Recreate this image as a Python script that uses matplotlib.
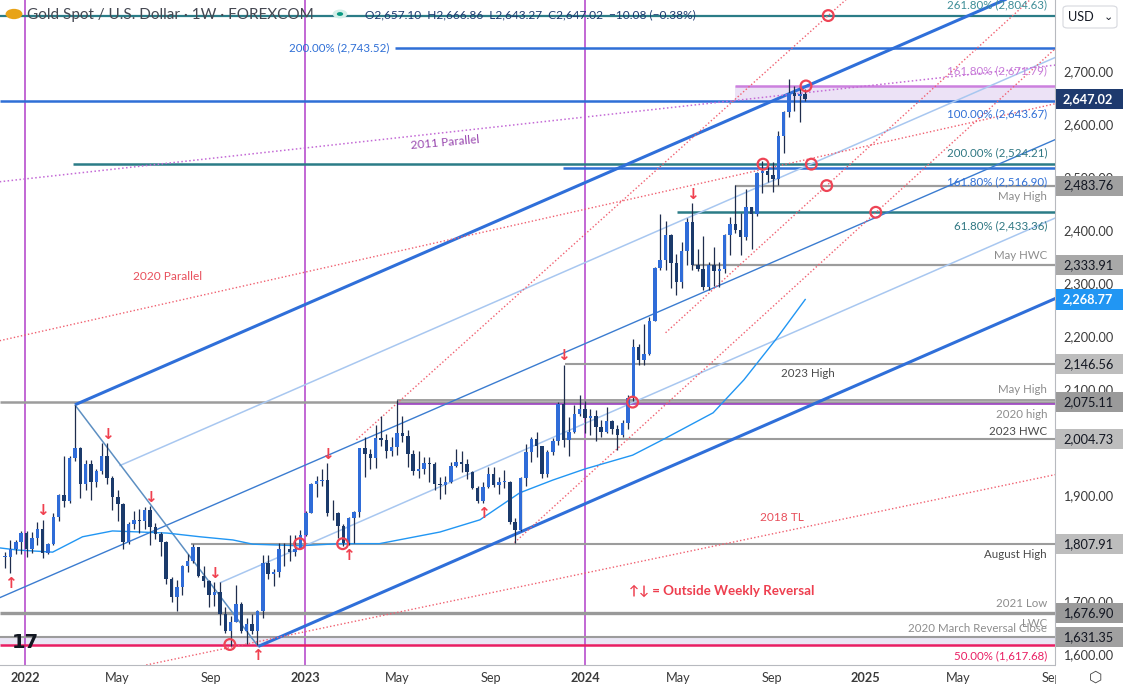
import matplotlib
matplotlib.use("Agg")
import matplotlib.pyplot as plt
import matplotlib.dates as mdates
from matplotlib.patches import Rectangle, FancyBboxPatch, Circle
from matplotlib.transforms import blended_transform_factory
import numpy as np
import pandas as pd

plt.rcParams['font.family'] = ['Lato', 'DejaVu Sans']

# ---- weekly XAU/USD candles (Dec 2021 -> Oct 2024) ----
week_start = pd.date_range('2021-12-06', periods=150, freq='7D')
opens = [1783, 1783, 1798, 1811,
         1829, 1797, 1818, 1835, 1791, 1807, 1859, 1899, 1889, 1970, 1988, 1921, 1958,
         1925, 1945, 1974, 1931, 1896, 1883, 1811, 1846, 1853, 1850, 1871, 1840, 1827,
         1811, 1742, 1708, 1727, 1766, 1775, 1802, 1747, 1737, 1712, 1716, 1675, 1644,
         1661, 1695, 1644, 1657, 1644, 1681, 1771, 1751, 1754, 1797, 1797, 1793, 1798,
         1824, 1866, 1920, 1927, 1928, 1865, 1866, 1842, 1810, 1856, 1868, 1988, 1978,
         1969, 2007, 2004, 1983, 1990, 2017, 2011, 1977, 1946, 1948, 1961, 1958, 1921,
         1919, 1925, 1955, 1962, 1959, 1943, 1913, 1889, 1914, 1940, 1919, 1924, 1925,
         1848, 1833, 1932, 1981, 2006, 1993, 1940, 1981, 2002, 2072, 2004, 2019, 2053,
         2062, 2045, 2049, 2029, 2018, 2039, 2024, 2013, 2035, 2083, 2179, 2155, 2165,
         2229, 2329, 2344, 2391, 2337, 2301, 2360, 2415, 2334, 2327, 2293, 2333, 2322,
         2326, 2391, 2411, 2400, 2387, 2443, 2431, 2508, 2512, 2503, 2497, 2578, 2622, 2658,
         2653, 2657.10]
highs = [1793, 1815, 1815, 1831,
         1831, 1830, 1848, 1853, 1810, 1865, 1902, 1974, 1974, 2070, 1990, 1966, 1966,
         1949, 1998, 1998, 1936, 1909, 1884, 1849, 1870, 1874, 1877, 1879, 1847, 1830,
         1813, 1745, 1739, 1767, 1788, 1808, 1802, 1765, 1740, 1735, 1735, 1688, 1672,
         1730, 1697, 1668, 1675, 1682, 1786, 1787, 1761, 1810, 1810, 1825, 1824, 1833,
         1870, 1922, 1935, 1949, 1960, 1890, 1868, 1845, 1858, 1870, 1989, 2009, 1987,
         2032, 2048, 2015, 2009, 2079, 2048, 2022, 1985, 1983, 1971, 1971, 1962, 1933,
         1935, 1963, 1987, 1982, 1968, 1945, 1917, 1924, 1953, 1953, 1933, 1947, 1926,
         1857, 1933, 1997, 2009, 2019, 1993, 1985, 2008, 2075, 2146, 2047, 2070, 2088,
         2078, 2062, 2060, 2041, 2065, 2041, 2032, 2041, 2088, 2195, 2185, 2222, 2236,
         2331, 2431, 2417, 2393, 2354, 2378, 2422, 2450, 2364, 2388, 2339, 2368, 2339,
         2393, 2424, 2484, 2432, 2477, 2444, 2509, 2531, 2525, 2529, 2586, 2625, 2685, 2672,
         2671, 2666.86]
lows = [1762, 1753, 1789, 1789,
        1782, 1791, 1805, 1780, 1788, 1806, 1850, 1878, 1885, 1964, 1895, 1910, 1890,
        1915, 1940, 1920, 1872, 1850, 1798, 1807, 1836, 1828, 1836, 1805, 1816, 1785,
        1732, 1697, 1680, 1711, 1754, 1772, 1745, 1727, 1688, 1691, 1654, 1639, 1615,
        1660, 1640, 1618, 1638, 1616, 1668, 1741, 1728, 1745, 1765, 1775, 1784, 1797,
        1822, 1865, 1896, 1916, 1861, 1853, 1818, 1804, 1805, 1809, 1858, 1934, 1949,
        1950, 1993, 1969, 1974, 1975, 2000, 1952, 1937, 1932, 1940, 1925, 1910, 1893,
        1902, 1922, 1952, 1943, 1930, 1911, 1885, 1884, 1913, 1915, 1901, 1913, 1846,
        1810, 1832, 1916, 1962, 1972, 1932, 1933, 1975, 1994, 1990, 1973, 2016, 2048,
        2017, 2013, 2001, 2009, 2016, 2015, 1984, 2010, 2024, 2078, 2146, 2146, 2164,
        2228, 2325, 2324, 2291, 2277, 2291, 2333, 2325, 2323, 2286, 2287, 2295, 2293,
        2319, 2352, 2394, 2353, 2382, 2364, 2426, 2470, 2491, 2472, 2485, 2546, 2614, 2624,
        2604, 2643.27]
closes = [1783, 1798, 1811, 1829,
          1797, 1818, 1835, 1791, 1807, 1859, 1899, 1889, 1970, 1988, 1921, 1958, 1925,
          1945, 1974, 1931, 1896, 1883, 1811, 1846, 1853, 1850, 1871, 1840, 1827, 1811,
          1742, 1708, 1727, 1766, 1775, 1802, 1747, 1737, 1712, 1716, 1675, 1644, 1661,
          1695, 1644, 1657, 1644, 1681, 1771, 1751, 1754, 1797, 1798, 1793, 1798, 1824,
          1866, 1920, 1927, 1928, 1865, 1866, 1842, 1810, 1856, 1868, 1988, 1978, 1969,
          2007, 2004, 1983, 1990, 2017, 2011, 1977, 1946, 1948, 1961, 1958, 1921, 1919,
          1925, 1955, 1962, 1959, 1943, 1913, 1889, 1914, 1940, 1919, 1924, 1925, 1848,
          1833, 1932, 1981, 2006, 1993, 1940, 1981, 2002, 2072, 2004, 2019, 2053, 2062,
          2045, 2049, 2029, 2018, 2039, 2024, 2013, 2035, 2083, 2179, 2155, 2165, 2229,
          2329, 2344, 2391, 2337, 2301, 2360, 2415, 2334, 2327, 2293, 2333, 2322, 2326,
          2391, 2411, 2400, 2387, 2443, 2431, 2508, 2512, 2503, 2497, 2578, 2622, 2658, 2653,
          2657, 2647.02]

# 52-week moving average
ma_dates = ['2021-11-29', '2021-12-22', '2022-02-06', '2022-03-17', '2022-04-25', '2022-05-31',
            '2022-07-05', '2022-08-17', '2022-09-29', '2022-10-25', '2022-12-25', '2023-02-15',
            '2023-04-08', '2023-06-26', '2023-08-17', '2023-10-08', '2023-11-20', '2024-01-01',
            '2024-03-03', '2024-04-11', '2024-06-16', '2024-07-26', '2024-09-05', '2024-10-14']
ma_values = [1800, 1796, 1792, 1821, 1832, 1830, 1828, 1821, 1815, 1807, 1804, 1808,
             1808, 1830, 1853, 1904, 1928, 1949, 1975, 2004, 2055, 2117, 2192, 2268.77]

# outside weekly reversals
rev_up_dates = ['2021-12-13', '2022-10-31', '2023-02-27', '2023-08-21']
rev_down_dates = ['2022-01-24', '2022-04-18', '2022-06-13', '2022-09-05', '2023-01-30',
                  '2023-12-04', '2024-05-20']

# trendline anchors (date, price) -> ray to the right
trend_names = ['upper', 'lower', 'mid', 'light1', 'light2', 'handle',
               'par2020', 'par2011', 'tl2018', 'fan1', 'fan2', 'fan3']
trend_d0 = ['2022-03-07', '2022-11-01', '2021-11-29', '2022-05-04', '2022-09-12', '2022-03-07',
            '2021-11-29', '2021-11-29', '2022-06-08', '2023-03-09', '2023-10-01', '2024-04-15']
trend_p0 = [2070, 1614, 1706, 1955, 1734, 2070, 2191, 2491, 1579, 2004, 1810, 2206]
trend_d1 = ['2024-10-15', '2025-09-04', '2025-09-04', '2025-09-04', '2025-09-04', '2022-11-01',
            '2025-09-04', '2025-09-04', '2025-09-04', '2024-11-13', '2024-03-01', '2024-11-11']
trend_p1 = [2671, 2270, 2570, 2725, 2422, 1614, 2638, 2711, 1938, 2804.63, 2011, 2483.76]
trend_ray = [True, True, True, True, True, False, True, True, True, True, True, True]

# horizontal levels
level_prices = [2804.63, 2743.52, 2671.79, 2643.67, 2524.21, 2516.90, 2483.76, 2433.36,
                2333.91, 2146.56, 2078.50, 2075.11, 2072.00, 2004.73, 1807.91, 1676.90,
                1631.35, 1617.68]
level_start = [None, '2023-04-28', '2024-07-14', None, '2022-03-04', '2023-12-03', '2024-07-14',
               '2024-04-30', '2024-05-20', '2023-12-06', '2023-05-01', None, '2023-05-01',
               '2023-12-06', '2022-08-06', None, None, None]
level_labels = ['261.80% (2,804.63)', '200.00% (2,743.52)', '161.80% (2,671.79)',
                '100.00% (2,643.67)', '200.00% (2,524.21)', '161.80% (2,516.90)', 'May High',
                '61.80% (2,433.36)', 'May HWC', '2023 High', 'May High', '', '2020 high',
                '2023 HWC', 'August High', '2021 Low', 'LWC', '50.00% (1,617.68)']

# right-axis price tags
tag_prices = [2647.02, 2483.76, 2333.91, 2268.77, 2146.56, 2075.11, 2004.73, 1807.91,
              1676.90, 1631.35]

# circled intersections
circle_dates = ['2022-09-25', '2022-12-25', '2023-02-19', '2024-03-03', '2024-08-20',
                '2024-10-22', '2024-11-11', '2025-01-14', '2024-10-15', '2024-11-13']
circle_prices = [1617.68, 1807.91, 1807.91, 2075.11, 2524.21, 2524.21, 2483.76, 2433.36,
                 2671.79, 2804.63]

year_ticks = ['2022-01-01', '2023-01-01', '2024-01-01']
axis_prices = [1600, 1700, 1900, 2100, 2200, 2300, 2400, 2500, 2600, 2700]

# ---- colours ----
BULL = '#2f6cd8'
BEAR = '#1b3a6b'
WICK = '#1f2d4d'
RED = '#f0404f'
TEAL = '#2b7c87'
BLUE = '#2f6fd6'
VIOLET = '#cc80de'
GREY = '#9c9c9c'
CRIMSON = '#e91e63'

fig = plt.figure(figsize=(11.23, 6.89), dpi=100)
ax = fig.add_axes([0, 24 / 689, 1055 / 1123, 665 / 689])
ax.set_facecolor('white')

d2n = lambda s: mdates.date2num(pd.Timestamp(s))
base = d2n('2022-01-01')
xmin, xmax = base - 32.6, base + 1342.6
ax.set_xlim(xmin, xmax)
ax.set_ylim(1579, 2834)

# bands
ax.add_patch(Rectangle((d2n('2024-07-14'), 2643.67), xmax - d2n('2024-07-14'), 2671.79 - 2643.67,
                       facecolor='#ece2f6', edgecolor='none', zorder=1))
ax.axhspan(1617.68, 1631.35, color='#eae7f5', zorder=1, lw=0)

# vertical year lines
for d in year_ticks:
    ax.axvline(d2n(d), color='#b23ec9', lw=1.1, zorder=2)

# horizontal levels
lvl_color = [TEAL, BLUE, VIOLET, BLUE, TEAL, BLUE, GREY, TEAL, GREY, GREY, '#8f8f8f', GREY,
             '#9b3fc0', GREY, GREY, '#999999', GREY, CRIMSON]
lvl_width = [1.6, 1.8, 1.8, 1.8, 1.8, 1.8, 1.6, 1.8, 1.6, 1.5, 1.2, 1.8, 1.2, 1.5, 1.5, 2.4, 1.5, 1.8]
for p, s, c, w in zip(level_prices, level_start, lvl_color, lvl_width):
    x0 = xmin if s is None else d2n(s)
    ax.plot([x0, xmax], [p, p], color=c, lw=w, zorder=3, solid_capstyle='butt')

# trendlines
dotted = (0, (1, 1.6))
styles = {
    'upper': dict(color='#2f6fd9', lw=2.2), 'lower': dict(color='#2f6fd9', lw=2.2),
    'mid': dict(color='#3b7cd0', lw=1.0), 'light1': dict(color='#a8c7f0', lw=1.1),
    'light2': dict(color='#a8c7f0', lw=1.1), 'handle': dict(color='#5d8fc2', lw=1.1),
    'par2020': dict(color='#f06070', lw=1.0, ls=dotted),
    'par2011': dict(color='#c46ad6', lw=1.1, ls=dotted),
    'tl2018': dict(color='#f06070', lw=1.0, ls=dotted),
    'fan1': dict(color='#f06070', lw=1.0, ls=dotted),
    'fan2': dict(color='#f06070', lw=1.0, ls=dotted),
    'fan3': dict(color='#f06070', lw=1.0, ls=dotted),
}
for n, a, pa, b, pb, r in zip(trend_names, trend_d0, trend_p0, trend_d1, trend_p1, trend_ray):
    xa, xb = d2n(a), d2n(b)
    if r:
        slope = (pb - pa) / (xb - xa)
        xb, pb = xmax + 60, pa + slope * (xmax + 60 - xa)
    ax.plot([xa, xb], [pa, pb], zorder=4, solid_capstyle='butt', **styles[n])

# moving average
ax.plot([d2n(d) for d in ma_dates], ma_values, color='#2196f3', lw=1.0, zorder=4)

# candles
x = mdates.date2num(week_start)
o, h, l, c = map(np.array, (opens, highs, lows, closes))
up = c >= o
ax.vlines(x, l, h, color=WICK, lw=0.9, zorder=5)
body = np.maximum(np.abs(c - o), 1.5)
ax.bar(x, body, bottom=np.minimum(o, c), width=4.5, color=np.where(up, BULL, BEAR),
       zorder=6, linewidth=0)

# reversal arrows
idx = {d: i for i, d in enumerate(week_start.strftime('%Y-%m-%d'))}
for d in rev_up_dates:
    i = idx[d]
    ax.annotate('↑', (x[i], lows[i]), xytext=(0, -2), textcoords='offset points', ha='center',
                va='top', color=RED, fontsize=11, fontweight='bold', family='DejaVu Sans', zorder=7)
for d in rev_down_dates:
    i = idx[d]
    ax.annotate('↓', (x[i], highs[i]), xytext=(0, 1), textcoords='offset points', ha='center',
                va='bottom', color=RED, fontsize=11, fontweight='bold', family='DejaVu Sans', zorder=7)

# circles
ax.scatter([d2n(d) for d in circle_dates], circle_prices, s=60, facecolors='none',
           edgecolors='#ee4455', linewidths=1.6, zorder=8)

# level labels
lab_color = ['#3d8d97', BLUE, '#c77ad8', BLUE, '#2f7782', BLUE, '#8d8d8d', '#2f7782', '#8d8d8d',
             '#4a4a4a', '#8d8d8d', None, '#8d8d8d', '#4a4a4a', '#4a4a4a', '#8d8d8d', '#8d8d8d', CRIMSON]
lab_off = [8, 0, 11, -9, 8, -10, -8, -10, 7, -7, 8, 0, -8, 6, -8, 7, 10, -8]
trx = blended_transform_factory(ax.transAxes, ax.transData)
for k, (p, t, col, off) in enumerate(zip(level_prices, level_labels, lab_color, lab_off)):
    if not t:
        continue
    if k == 1:
        ax.annotate(t, (d2n(level_start[1]), p), xytext=(-4, 0), textcoords='offset points',
                    ha='right', va='center', color=col, fontsize=8.3, zorder=9)
    elif k == 9:
        ax.annotate(t, (d2n('2024-10-17'), p), xytext=(0, off), textcoords='offset points',
                    ha='center', va='center', color=col, fontsize=8.3, zorder=9)
    else:
        ax.annotate(t, (0.9925, p), xycoords=trx, xytext=(0, off), textcoords='offset points',
                    ha='right', va='center', color=col, fontsize=8.3, zorder=9)
ax.annotate('2020 March Reversal Close', (0.9925, 1631.35), xycoords=trx, xytext=(0, 6),
            textcoords='offset points', ha='right', va='center', color='#8d8d8d', fontsize=8.3, zorder=9)

# line names
ax.text(d2n('2022-07-06'), 2313, '2020 Parallel', color='#e8505c', fontsize=8.6, ha='center', va='center')
ax.text(d2n('2023-07-02'), 2566, '2011 Parallel', color='#9a4ab0', fontsize=8.6, ha='center',
        va='center', rotation=5)
ax.text(d2n('2024-09-14'), 1858, '2018 TL', color='#e8505c', fontsize=8.6, ha='center', va='center')
ax.text(d2n('2024-06-27'), 1719, '↑↓ = Outside Weekly Reversal', color='#ee3f4f', fontsize=9.6,
        ha='center', va='center', fontweight='bold', family=['Lato', 'DejaVu Sans'])

# axes styling
for s in ('top', 'left'):
    ax.spines[s].set_visible(False)
ax.spines['right'].set_color('#b7b9bf')
ax.spines['bottom'].set_color('#b7b9bf')
ax.yaxis.tick_right()
ax.set_yticks(axis_prices)
ax.set_yticklabels([f'{v:,.2f}' for v in axis_prices])
ax.tick_params(axis='y', length=0, pad=6, labelsize=9.2, labelcolor='#3b3b3b')
xt_dates = ['2022-01-01', '2022-05-01', '2022-09-01', '2023-01-01', '2023-05-01', '2023-09-01',
            '2024-01-01', '2024-05-01', '2024-09-01', '2025-01-01', '2025-05-01', '2025-09-01']
xt_labels = ['2022', 'May', 'Sep', '2023', 'May', 'Sep', '2024', 'May', 'Sep', '2025', 'May', 'Sep']
ax.set_xticks([d2n(d) for d in xt_dates])
ax.set_xticklabels(xt_labels)
ax.tick_params(axis='x', length=0, pad=5, labelsize=9.2, labelcolor='#3b3b3b')
for lab in ax.get_xticklabels():
    if lab.get_text().isdigit():
        lab.set_fontweight('bold')

# price tags on right axis
tag_face = ['#1e3a6e', '#a0a0a0', '#a8a8a8', '#2196f3', '#bdbdbd', '#9a9a9a', '#bdbdbd',
            '#bdbdbd', '#9a9a9a', '#a0a0a0']
tag_text = ['white', '#131722', '#131722', 'white', '#131722', '#131722', '#131722', '#131722',
            '#131722', '#131722']
for p, fc, tc in zip(tag_prices, tag_face, tag_text):
    ax.add_patch(Rectangle((1.0005, p - 19), 68 / 1055, 38, transform=trx, facecolor=fc,
                           edgecolor='none', clip_on=False, zorder=10))
    ax.text(1.0076, p, f'{p:,.2f}', transform=trx, ha='left', va='center', color=tc,
            fontsize=9.2, fontweight='bold' if tc == 'white' else 'normal', zorder=11, clip_on=False)

# corner cover / icons
fig.patches.append(Rectangle((1056 / 1123, 0), 67 / 1123, 24 / 689, transform=fig.transFigure,
                             facecolor='white', edgecolor='none', zorder=5))
fig.patches.append(FancyBboxPatch((1063 / 1123, 1 - 28 / 689), 54 / 1123, 22 / 689,
                                  boxstyle='round,pad=0,rounding_size=0.004',
                                  transform=fig.transFigure, facecolor='white',
                                  edgecolor='#d6d8de', lw=0.8, zorder=5))
fig.text(1068 / 1123, 1 - 17 / 689, 'USD', fontsize=9.2, color='#131722', va='center', zorder=6)
fig.text(1104 / 1123, 1 - 17 / 689, '⌄', fontsize=8, color='#131722', va='center', zorder=6,
         family='DejaVu Sans')
fig.text(1096 / 1123, 1 - 677 / 689, '⬡', fontsize=11, color='#444444', ha='center', va='center',
         family='DejaVu Sans', zorder=6)

# header
fig.patches.append(Circle((14 / 1123, 1 - 14 / 689), 0.0075, transform=fig.transFigure,
                          facecolor='#e8a317', edgecolor='none', zorder=5))
fig.text(27 / 1123, 1 - 15 / 689, 'Gold Spot / U.S. Dollar · 1W · FOREXCOM', fontsize=11,
         color='#454852', va='center')
fig.patches.append(Circle((340 / 1123, 1 - 14 / 689), 0.0065, transform=fig.transFigure,
                          facecolor='#d4efe9', edgecolor='none', zorder=5))
fig.patches.append(Circle((340 / 1123, 1 - 14 / 689), 0.0028, transform=fig.transFigure,
                          facecolor='#089981', edgecolor='none', zorder=6))
fig.text(365 / 1123, 1 - 15 / 689, 'O2,657.10  H2,666.86  L2,643.27  C2,647.02  −10.08 (−0.38%)',
         fontsize=8.6, color='#1e3b70', va='center')

# TradingView mark
fig.text(12 / 1123, 1 - 642 / 689, '17', fontsize=14, fontweight='bold', color='#131722',
         va='center', family='DejaVu Sans')

fig.savefig('out.png', dpi=100, facecolor='white')
